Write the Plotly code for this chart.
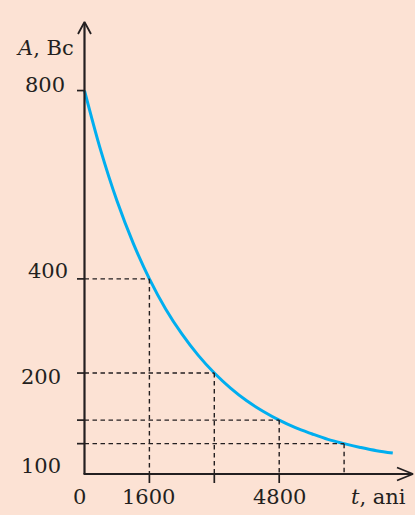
import plotly.graph_objects as go

# ---------------- data ----------------
t_years = [0, 400, 800, 1200, 1600, 2000, 2400, 2800, 3200, 3600, 4000,
           4400, 4800, 5200, 5600, 6000, 6400, 6800, 7200, 7600]
activity = [800, 673, 566, 476, 400, 336, 283, 238, 200, 168, 141,
            119, 100, 84, 71, 59, 50, 42, 35, 30]

half_t = [1600, 3200, 4800, 6400]     # guide points on the curve
half_A = [400, 200, 100, 50]

left_tick_A = [800, 400, 200, 100, 50]
bottom_tick_t = [1600, 3200, 4800]

y_labels = ["800", "400", "200", "100"]
x_labels = ["0", "1600", "4800"]

# ---------------- geometry (pixel <-> data) ----------------
W, H = 415, 515
X0PX, XS = 84.5, 64.9 / 1600.0      # pixel of t=0, px per year
Y0PX, YS = 467.2, 0.4708            # pixel of A=0, px per Bc

def tx(px):   # pixel x -> t
    return (px - X0PX) / XS

def ay(py):   # pixel y -> A
    return (Y0PX - py) / YS

AX_Y = ay(474)          # x-axis level
INK = "#231F20"
BG = "#FCE2D4"
CURVE = "#00AEEF"

fig = go.Figure()

shapes = []
# dashed guides
for t, a in zip(half_t, half_A):
    shapes.append(dict(type="line", xref="x", yref="y", x0=0, x1=t, y0=a, y1=a,
                       line=dict(color=INK, width=1.4, dash="4.5px,3.5px")))
    shapes.append(dict(type="line", xref="x", yref="y", x0=t, x1=t, y0=a, y1=AX_Y,
                       line=dict(color=INK, width=1.4, dash="4.5px,3.5px")))
# left ticks
for a in left_tick_A:
    shapes.append(dict(type="line", xref="x", yref="y", x0=tx(77), x1=0, y0=a, y1=a,
                       line=dict(color=INK, width=1.7)))
# bottom ticks
for t in bottom_tick_t:
    shapes.append(dict(type="line", xref="x", yref="y", x0=t, x1=t, y0=AX_Y, y1=ay(483),
                       line=dict(color=INK, width=1.7)))
# axes
shapes.append(dict(type="line", xref="x", yref="y", x0=0, x1=0, y0=AX_Y, y1=ay(23),
                   line=dict(color=INK, width=2.2)))
shapes.append(dict(type="line", xref="x", yref="y", x0=tx(83.5), x1=tx(412), y0=AX_Y, y1=AX_Y,
                   line=dict(color=INK, width=2.2)))

# arrow heads (open chevrons)
fig.add_trace(go.Scatter(x=[tx(78), tx(84.5), tx(91)], y=[ay(34), ay(22), ay(34)],
                         mode="lines", line=dict(color=INK, width=1.8),
                         hoverinfo="skip", showlegend=False))
fig.add_trace(go.Scatter(x=[tx(397), tx(413), tx(397)], y=[ay(467.5), ay(474), ay(480.5)],
                         mode="lines", line=dict(color=INK, width=1.8),
                         hoverinfo="skip", showlegend=False))

# decay curve
fig.add_trace(go.Scatter(x=t_years, y=activity, mode="lines",
                         line=dict(color=CURVE, width=3, shape="spline"),
                         hoverinfo="skip", showlegend=False))

FONT = dict(family="DejaVu Serif", size=21, color=INK)
ann = []
y_label_pos = [(67, 85), (70, 271), (63, 377), (63, 466)]
for txt, (px, py) in zip(y_labels, y_label_pos):
    ann.append(dict(x=px / W, y=1 - py / H, xref="paper", yref="paper", text=txt,
                    showarrow=False, xanchor="right", yanchor="middle", font=FONT))
x_label_pos = [(79, 497), (148, 497), (279, 497)]
for txt, (px, py) in zip(x_labels, x_label_pos):
    ann.append(dict(x=px / W, y=1 - py / H, xref="paper", yref="paper", text=txt,
                    showarrow=False, xanchor="center", yanchor="middle", font=FONT))
ann.append(dict(x=45 / W, y=1 - 48 / H, xref="paper", yref="paper", text="<i>A</i>, Bc",
                showarrow=False, xanchor="center", yanchor="middle", font=FONT))
ann.append(dict(x=378 / W, y=1 - 497 / H, xref="paper", yref="paper", text="<i>t</i>, ani",
                showarrow=False, xanchor="center", yanchor="middle", font=FONT))

fig.update_layout(
    width=W, height=H,
    margin=dict(l=0, r=0, t=0, b=0),
    paper_bgcolor=BG, plot_bgcolor=BG,
    xaxis=dict(range=[tx(0), tx(W)], visible=False, fixedrange=True),
    yaxis=dict(range=[ay(H), ay(0)], visible=False, fixedrange=True),
    shapes=shapes, annotations=ann, showlegend=False,
)

fig.write_html("out.html", config={"displayModeBar": False},
               post_script="document.body.style.margin='0';document.body.style.padding='0';"
                           "document.body.style.overflow='hidden';")
